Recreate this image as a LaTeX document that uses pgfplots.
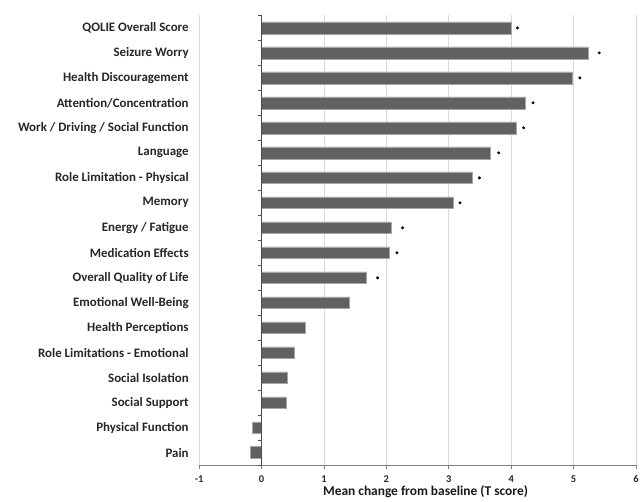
\documentclass[border=0pt]{standalone}
\usepackage{pgfplots}
\pgfplotsset{compat=1.18}
\usepackage{pgfplotstable}
\usepackage{fontspec}
\setmainfont{Carlito}

% y position (18 = top) and mean change
\pgfplotstableread{
pos val
18 4.00
17 5.23
16 4.98
15 4.23
14 4.08
13 3.67
12 3.38
11 3.07
10 2.08
9  2.04
8  1.68
7  1.41
6  0.70
5  0.53
4  0.42
3  0.39
2  -0.14
1  -0.18
}\bars

% significance markers
\pgfplotstableread{
pos val
18 4.10
17 5.41
16 5.10
15 4.35
14 4.20
13 3.80
12 3.49
11 3.18
10 2.26
9  2.17
8  1.86
}\stars

\begin{document}
\begin{tikzpicture}
\begin{axis}[
  scale only axis, width=440pt, height=453pt,
  xmin=-1, xmax=6, ymin=0.5, ymax=18.5,
  axis x line*=bottom, axis y line*=left,
  y axis line style={draw=none},
  x axis line style={black!50, line width=0.8pt, -},
  xtick={-1,...,6}, xticklabels={-1,0,1,2,3,4,5,6},
  xtick style={black!50, line width=0.8pt},
  major tick length=4pt, tick align=outside,
  ytick={1,...,18},
  yticklabels={Pain, Physical Function, Social Support, Social Isolation,
    Role Limitations - Emotional, Health Perceptions, Emotional Well-Being,
    Overall Quality of Life, Medication Effects, Energy / Fatigue, Memory,
    Role Limitation - Physical, Language, Work / Driving / Social Function,
    Attention/Concentration, Health Discouragement, Seizure Worry,
    QOLIE Overall Score},
  ytick style={draw=none},
  yticklabel style={xshift=-3pt, font=\fontsize{13}{15}\selectfont\bfseries, text=black!85},
  xticklabel style={font=\fontsize{10.5}{12}\selectfont\bfseries, text=black!85, yshift=-3pt},
  xmajorgrids, grid style={black!15, line width=0.8pt},
  xlabel={Mean change from baseline (T score)},
  xlabel style={font=\fontsize{13.5}{15}\selectfont\bfseries, text=black!90, yshift=4pt, xshift=8pt},
  clip=false,
]
\addplot[xbar, bar width=12pt, fill=black!62, draw=black!35, line width=0.6pt]
  table[x=val, y=pos] {\bars};
\addplot[only marks, mark=*, mark size=1.3pt, black] table[x=val, y=pos] {\stars};
\draw[black!70, line width=0.8pt] (axis cs:0,0.5) -- (axis cs:0,18.5);
\pgfplotsinvokeforeach{0.5,1.5,...,18.5}{
  \draw[black!70, line width=0.8pt] (axis cs:0,#1) -- ++(-4pt,0pt);
}
% blank margins as in the reference
\path (rel axis cs:0,1) ++(-200pt,15pt) circle (0.5pt);
\path (rel axis cs:1,0) ++(3pt,0pt) circle (0.5pt);
\end{axis}
\end{tikzpicture}
\end{document}
